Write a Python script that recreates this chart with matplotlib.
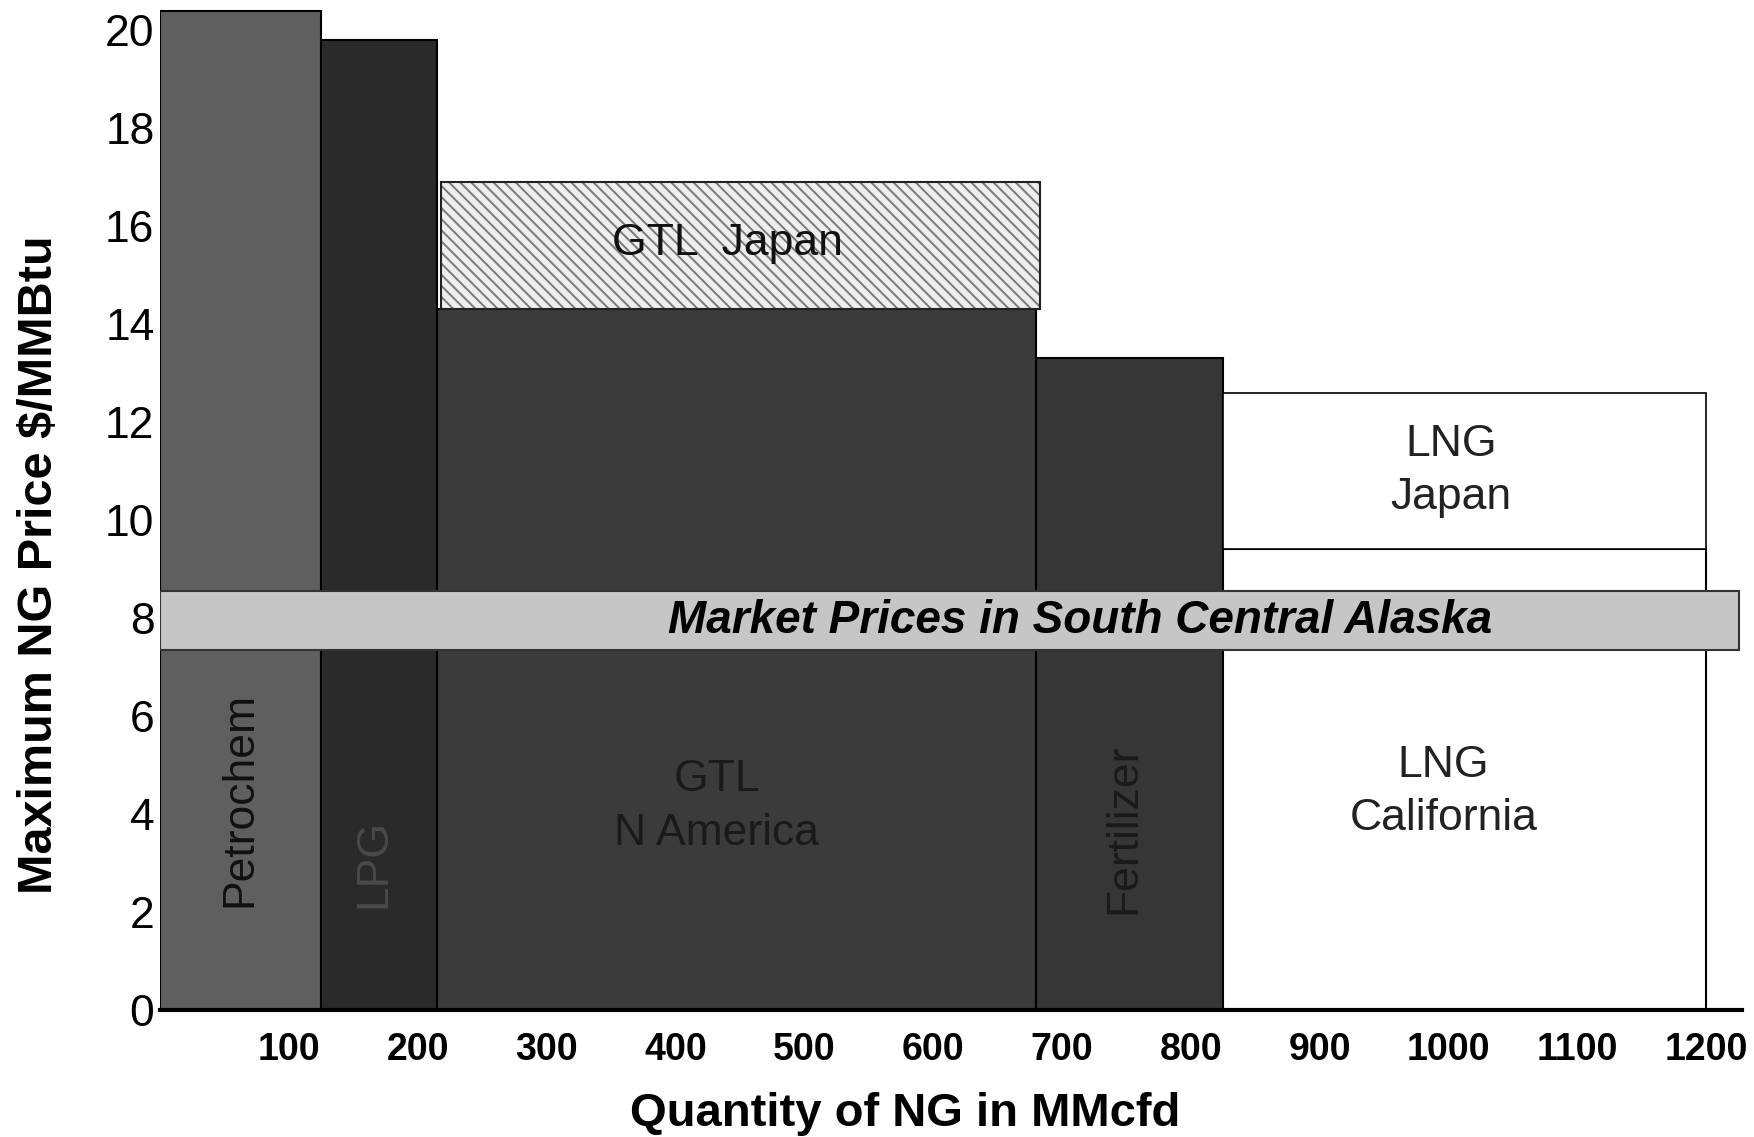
"""NG demand stack — max price vs quantity, Alaska market band."""

import matplotlib
matplotlib.use("Agg")
import matplotlib.pyplot as plt

plt.rcParams["font.family"] = ["Liberation Sans", "DejaVu Sans"]
plt.rcParams["hatch.linewidth"] = 1.4

# base demand blocks (MMcfd start / width, max price $/MMBtu)
demand = ["Petrochem", "LPG", "GTL\nN America", "Fertilizer", "LNG\nCalifornia"]
q_start = [0, 125, 215, 680, 825]
q_width = [125, 90, 465, 145, 375]
price = [20.4, 19.8, 14.3, 13.3, 9.4]

# upper (Japan) tiers sitting on GTL and LNG blocks
japan = ["GTL  Japan", "LNG\nJapan"]
japan_start = [218, 825]
japan_width = [465, 375]
japan_base = [14.3, 9.4]
japan_top = [16.9, 12.6]

market_low, market_high = 7.35, 8.55
market_q = [0, 1225]

x_ticks = [100, 200, 300, 400, 500, 600, 700, 800, 900, 1000, 1100, 1200]
y_ticks = list(range(0, 21, 2))

fills = ["#5f5f5f", "#2a2a2a", "#3b3b3b", "#363636", "white"]

fig = plt.figure(figsize=(17.54, 11.37), dpi=100)
ax = fig.add_axes([0.0912, 0.1117, 0.9022, 0.8833])

ax.bar(q_start, price, q_width, align="edge", color=fills,
       edgecolor="black", linewidth=1.5, zorder=2)

# GTL Japan: light hatch, then a dark outline on top
ax.bar(japan_start[0], japan_top[0] - japan_base[0], japan_width[0],
       bottom=japan_base[0], align="edge", facecolor="#eeeeee",
       edgecolor="#7a7a7a", hatch="\\\\\\", linewidth=0, zorder=2)
ax.bar(japan_start[0], japan_top[0] - japan_base[0], japan_width[0],
       bottom=japan_base[0], align="edge", fill=False,
       edgecolor="#222222", linewidth=1.5, zorder=2)
ax.bar(japan_start[1], japan_top[1] - japan_base[1], japan_width[1],
       bottom=japan_base[1], align="edge", facecolor="white",
       edgecolor="black", linewidth=1.2, zorder=2)

# market price band across all blocks
ax.bar(market_q[0], market_high - market_low, market_q[1] - market_q[0],
       bottom=market_low, align="edge", facecolor="#c6c6c6",
       edgecolor="#333333", linewidth=1.5, zorder=3)
ax.text(714, (market_low + market_high) / 2,
        "Market Prices in South Central Alaska", fontsize=33,
        fontweight="bold", style="italic", ha="center", va="center",
        color="black", zorder=4)

# block labels
ax.text(62, 4.3, demand[0], rotation=90, fontsize=32, ha="center",
        va="center", color="#111111", zorder=4)
ax.text(166, 3.0, demand[1], rotation=90, fontsize=32, ha="center",
        va="center", color="#4a4a4a", zorder=4)
ax.text(432, 4.15, demand[2], fontsize=32, ha="center", va="center",
        color="#1a1a1a", linespacing=1.4, zorder=4)
ax.text(748, 3.7, demand[3], rotation=90, fontsize=32, ha="center",
        va="center", color="#1a1a1a", zorder=4)
ax.text(996, 4.45, demand[4], fontsize=32, ha="center", va="center",
        color="#222222", linespacing=1.4, zorder=4)
ax.text(440, 15.65, japan[0], fontsize=32, ha="center", va="center",
        color="#111111", zorder=4)
ax.text(1002, 11.0, japan[1], fontsize=32, ha="center", va="center",
        color="#222222", linespacing=1.4, zorder=4)

ax.set_xlim(0, 1228)
ax.set_ylim(0, 20.5)
ax.set_xticks(x_ticks)
ax.set_xticklabels([str(v) for v in x_ticks], fontsize=27, fontweight="bold")
ax.set_yticks(y_ticks)
ax.set_yticklabels([str(v) for v in y_ticks], fontsize=32)
ax.tick_params(axis="x", length=0, pad=16)
ax.tick_params(axis="y", length=0, pad=4)

for side in ["left", "top", "right"]:
    ax.spines[side].set_visible(False)
ax.spines["bottom"].set_linewidth(3)
ax.spines["bottom"].set_zorder(5)

ax.set_xlabel("Quantity of NG in MMcfd", fontsize=34, fontweight="bold")
ax.set_ylabel("Maximum NG Price $/MMBtu", fontsize=35, fontweight="bold")
ax.xaxis.set_label_coords(0.471, -0.082)
ax.yaxis.set_label_coords(-0.062, 0.443)

fig.savefig("out.png", dpi=100)
